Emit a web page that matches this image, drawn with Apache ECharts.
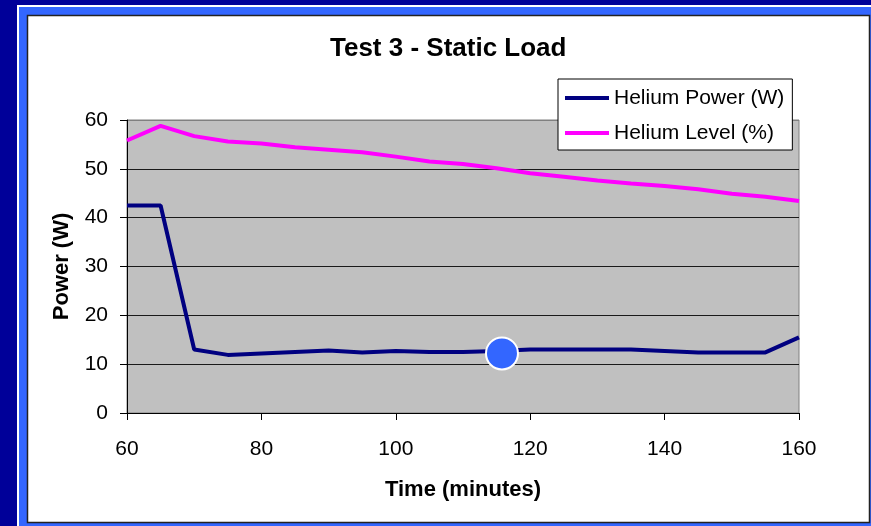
<!DOCTYPE html>
<html>
<head>
<meta charset="utf-8">
<title>Test 3 - Static Load</title>
<script src="https://cdn.jsdelivr.net/npm/echarts@6/dist/echarts.min.js"></script>
<style>
  html, body { margin: 0; padding: 0; background: #000099; }
  #chart { width: 871px; height: 526px; }
</style>
</head>
<body>
<div id="chart"></div>
<script>
// Elapsed time of each reading, minutes
const minutes = [60, 65, 70, 75, 80, 85, 90, 95, 100, 105, 110, 115, 120, 125, 130, 135, 140, 145, 150, 155, 160];
// Helium power, W
const heliumPower = [42.5, 42.5, 13.0, 11.9, 12.2, 12.5, 12.8, 12.4, 12.7, 12.5, 12.5, 12.7, 13.0, 13.0, 13.0, 13.0, 12.7, 12.4, 12.4, 12.4, 15.5];
// Helium level, %
const heliumLevel = [55.8, 58.8, 56.7, 55.6, 55.2, 54.4, 53.9, 53.4, 52.5, 51.5, 51.0, 50.1, 49.1, 48.4, 47.6, 47.0, 46.5, 45.8, 44.9, 44.3, 43.4];
// Highlighted reading
const markerPoint = [[115.8, 12.2]];
// Axis ticks
const xTicks = { min: 60, max: 160, step: 20 };
const yTicks = { min: 0, max: 60, step: 10 };

const FONT = '"Liberation Sans", Arial, sans-serif';

const pair = (xs, ys) => xs.map((x, i) => [x, ys[i]]);

const chart = echarts.init(document.getElementById('chart'), null, { renderer: 'canvas' });

chart.setOption({
  backgroundColor: '#000099',
  animation: false,
  textStyle: { fontFamily: FONT },
  graphic: [
    { type: 'rect', z: -10, silent: true, shape: { x: 17, y: 5, width: 900, height: 600 }, style: { fill: '#FFFFFF' } },
    { type: 'rect', z: -9, silent: true, shape: { x: 19, y: 7, width: 900, height: 600 }, style: { fill: '#3366FF' } },
    { type: 'rect', z: -8, silent: true, shape: { x: 27.5, y: 15.5, width: 842, height: 507 }, style: { fill: '#FFFFFF', stroke: '#222222', lineWidth: 1.5 } }
  ],
  title: {
    text: 'Test 3 - Static Load',
    left: 330,
    top: 36,
    padding: 0,
    textStyle: { fontFamily: FONT, fontSize: 26, fontWeight: 'bold', color: '#000000' }
  },
  legend: {
    orient: 'vertical',
    left: 558,
    top: 79,
    padding: [6, 8, 4, 7],
    itemGap: 9,
    itemWidth: 44,
    itemHeight: 4,
    icon: 'rect',
    backgroundColor: '#FFFFFF',
    borderColor: '#000000',
    borderWidth: 1,
    borderRadius: 0,
    data: ['Helium Power (W)', 'Helium Level (%)'],
    textStyle: { fontFamily: FONT, fontSize: 21, color: '#000000', lineHeight: 26 }
  },
  grid: {
    left: 127,
    top: 120,
    width: 672,
    height: 293,
    show: true,
    backgroundColor: '#C0C0C0',
    borderColor: '#808080',
    borderWidth: 1
  },
  xAxis: {
    type: 'value',
    min: xTicks.min,
    max: xTicks.max,
    interval: xTicks.step,
    name: 'Time (minutes)',
    nameLocation: 'middle',
    nameGap: 66,
    nameTextStyle: { fontFamily: FONT, fontSize: 22, fontWeight: 'bold', color: '#000000' },
    axisLine: { show: true, lineStyle: { color: '#000000', width: 1 } },
    axisTick: { show: true, inside: false, length: 7, lineStyle: { color: '#000000' } },
    axisLabel: { margin: 26, fontFamily: FONT, fontSize: 21, color: '#000000' },
    splitLine: { show: false }
  },
  yAxis: {
    type: 'value',
    min: yTicks.min,
    max: yTicks.max,
    interval: yTicks.step,
    name: 'Power (W)',
    nameLocation: 'middle',
    nameRotate: 90,
    nameGap: 54,
    nameTextStyle: { fontFamily: FONT, fontSize: 22, fontWeight: 'bold', color: '#000000' },
    axisLine: { show: true, lineStyle: { color: '#000000', width: 1 } },
    axisTick: { show: true, inside: false, length: 7, lineStyle: { color: '#000000' } },
    axisLabel: { margin: 19, fontFamily: FONT, fontSize: 21, color: '#000000' },
    splitLine: {
      show: true,
      lineStyle: { color: ['#000000', '#1a1a1a', '#1a1a1a', '#1a1a1a', '#1a1a1a', '#1a1a1a', '#808080'], width: 1 }
    }
  },
  series: [
    {
      name: 'Helium Power (W)',
      type: 'line',
      data: pair(minutes, heliumPower),
      symbol: 'none',
      color: '#000080',
      lineStyle: { color: '#000080', width: 4 },
      z: 3
    },
    {
      name: 'Helium Level (%)',
      type: 'line',
      data: pair(minutes, heliumLevel),
      symbol: 'none',
      color: '#FF00FF',
      lineStyle: { color: '#FF00FF', width: 4 },
      z: 3
    },
    {
      name: 'marker',
      type: 'scatter',
      data: markerPoint,
      symbol: 'circle',
      symbolSize: 32,
      itemStyle: { color: '#3366FF', borderColor: '#FFFFFF', borderWidth: 2, opacity: 1 },
      z: 5
    }
  ]
});
</script>
</body>
</html>
